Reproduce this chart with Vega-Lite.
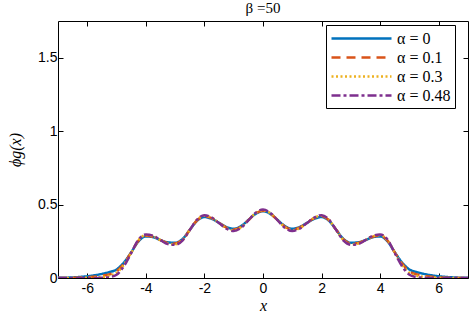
{
  "$schema": "https://vega.github.io/schema/vega-lite/v6.json",
  "width": 410,
  "height": 257,
  "autosize": {"type": "none"},
  "padding": {"left": 58, "top": 21, "right": 3, "bottom": 40},
  "title": {"text": "β =50", "font": "Liberation Serif", "fontSize": 15, "fontWeight": "normal", "offset": 5, "anchor": "middle", "color": "black"},
  "config": {
    "view": {"stroke": "black", "strokeWidth": 1},
    "axis": {"grid": false, "domain": false, "tickColor": "black", "tickSize": -5, "labelFont": "Liberation Sans", "labelFontSize": 14, "labelColor": "black", "titleColor": "black"},
    "legend": {"title": null, "orient": "none", "legendX": 268, "legendY": 4, "symbolType": "M-1,0H6.5", "symbolSize": 256, "labelFont": "Liberation Serif", "labelFontSize": 16, "labelColor": "black", "strokeColor": "black", "fillColor": "white", "padding": 4, "labelOffset": 48, "rowPadding": 1}
  },
  "data": {"values": [
    {"x": -7, "a0": 0.001, "a01": 0, "a03": 0, "a048": 0},
    {"x": -6.5, "a0": 0.004, "a01": 0.001, "a03": 0, "a048": 0},
    {"x": -6, "a0": 0.012, "a01": 0.005, "a03": 0.002, "a048": 0},
    {"x": -5.5, "a0": 0.028, "a01": 0.015, "a03": 0.007, "a048": 0.002},
    {"x": -5.25, "a0": 0.04, "a01": 0.025, "a03": 0.015, "a048": 0.006},
    {"x": -5, "a0": 0.058, "a01": 0.045, "a03": 0.035, "a048": 0.022},
    {"x": -4.75, "a0": 0.105, "a01": 0.098, "a03": 0.09, "a048": 0.08},
    {"x": -4.5, "a0": 0.175, "a01": 0.175, "a03": 0.172, "a048": 0.17},
    {"x": -4.25, "a0": 0.25, "a01": 0.255, "a03": 0.258, "a048": 0.262},
    {"x": -4, "a0": 0.283, "a01": 0.288, "a03": 0.292, "a048": 0.297},
    {"x": -3.75, "a0": 0.278, "a01": 0.281, "a03": 0.284, "a048": 0.288},
    {"x": -3.5, "a0": 0.258, "a01": 0.258, "a03": 0.258, "a048": 0.258},
    {"x": -3.25, "a0": 0.243, "a01": 0.239, "a03": 0.235, "a048": 0.231},
    {"x": -3, "a0": 0.24, "a01": 0.235, "a03": 0.23, "a048": 0.226},
    {"x": -2.75, "a0": 0.265, "a01": 0.262, "a03": 0.258, "a048": 0.255},
    {"x": -2.5, "a0": 0.328, "a01": 0.328, "a03": 0.327, "a048": 0.327},
    {"x": -2.25, "a0": 0.39, "a01": 0.393, "a03": 0.396, "a048": 0.398},
    {"x": -2, "a0": 0.415, "a01": 0.42, "a03": 0.424, "a048": 0.428},
    {"x": -1.75, "a0": 0.403, "a01": 0.407, "a03": 0.41, "a048": 0.412},
    {"x": -1.5, "a0": 0.375, "a01": 0.375, "a03": 0.375, "a048": 0.374},
    {"x": -1.25, "a0": 0.347, "a01": 0.343, "a03": 0.339, "a048": 0.336},
    {"x": -1, "a0": 0.335, "a01": 0.33, "a03": 0.325, "a048": 0.32},
    {"x": -0.75, "a0": 0.353, "a01": 0.349, "a03": 0.345, "a048": 0.341},
    {"x": -0.5, "a0": 0.395, "a01": 0.394, "a03": 0.394, "a048": 0.393},
    {"x": -0.25, "a0": 0.437, "a01": 0.439, "a03": 0.442, "a048": 0.444},
    {"x": 0, "a0": 0.455, "a01": 0.458, "a03": 0.462, "a048": 0.466},
    {"x": 0.25, "a0": 0.437, "a01": 0.439, "a03": 0.442, "a048": 0.444},
    {"x": 0.5, "a0": 0.395, "a01": 0.394, "a03": 0.394, "a048": 0.393},
    {"x": 0.75, "a0": 0.353, "a01": 0.349, "a03": 0.345, "a048": 0.341},
    {"x": 1, "a0": 0.335, "a01": 0.33, "a03": 0.325, "a048": 0.32},
    {"x": 1.25, "a0": 0.347, "a01": 0.343, "a03": 0.339, "a048": 0.336},
    {"x": 1.5, "a0": 0.375, "a01": 0.375, "a03": 0.375, "a048": 0.374},
    {"x": 1.75, "a0": 0.403, "a01": 0.407, "a03": 0.41, "a048": 0.412},
    {"x": 2, "a0": 0.415, "a01": 0.42, "a03": 0.424, "a048": 0.428},
    {"x": 2.25, "a0": 0.39, "a01": 0.393, "a03": 0.396, "a048": 0.398},
    {"x": 2.5, "a0": 0.328, "a01": 0.328, "a03": 0.327, "a048": 0.327},
    {"x": 2.75, "a0": 0.265, "a01": 0.262, "a03": 0.258, "a048": 0.255},
    {"x": 3, "a0": 0.24, "a01": 0.235, "a03": 0.23, "a048": 0.226},
    {"x": 3.25, "a0": 0.243, "a01": 0.239, "a03": 0.235, "a048": 0.231},
    {"x": 3.5, "a0": 0.258, "a01": 0.258, "a03": 0.258, "a048": 0.258},
    {"x": 3.75, "a0": 0.278, "a01": 0.281, "a03": 0.284, "a048": 0.288},
    {"x": 4, "a0": 0.283, "a01": 0.288, "a03": 0.292, "a048": 0.297},
    {"x": 4.25, "a0": 0.25, "a01": 0.255, "a03": 0.258, "a048": 0.262},
    {"x": 4.5, "a0": 0.175, "a01": 0.175, "a03": 0.172, "a048": 0.17},
    {"x": 4.75, "a0": 0.105, "a01": 0.098, "a03": 0.09, "a048": 0.08},
    {"x": 5, "a0": 0.058, "a01": 0.045, "a03": 0.035, "a048": 0.022},
    {"x": 5.25, "a0": 0.04, "a01": 0.025, "a03": 0.015, "a048": 0.006},
    {"x": 5.5, "a0": 0.028, "a01": 0.015, "a03": 0.007, "a048": 0.002},
    {"x": 6, "a0": 0.012, "a01": 0.005, "a03": 0.002, "a048": 0},
    {"x": 6.5, "a0": 0.004, "a01": 0.001, "a03": 0, "a048": 0},
    {"x": 7, "a0": 0.001, "a01": 0, "a03": 0, "a048": 0}
  ]},
  "transform": [{"fold": ["a0", "a01", "a03", "a048"], "as": ["series", "phi"]}],
  "resolve": {"axis": {"x": "independent", "y": "independent"}},
  "layer": [
    {
      "mark": {"type": "line", "interpolate": "monotone", "clip": true},
      "encoding": {
        "x": {"field": "x", "type": "quantitative", "scale": {"domain": [-7, 7], "nice": false, "zero": false},
          "axis": {"orient": "bottom", "values": [-6, -4, -2, 0, 2, 4, 6], "labelExpr": "'' + datum.value", "title": "x", "titleFont": "Liberation Serif", "titleFontStyle": "italic", "titleFontWeight": "normal", "titleFontSize": 16, "labelPadding": 8, "titlePadding": 2}},
        "y": {"field": "phi", "type": "quantitative", "scale": {"domain": [0, 1.75], "nice": false},
          "axis": {"orient": "left", "values": [0, 0.5, 1, 1.5], "labelExpr": "'' + datum.value", "title": "ϕg(x)", "titleFont": "Liberation Serif", "titleFontStyle": "italic", "titleFontWeight": "normal", "titleFontSize": 16, "labelPadding": 6, "titlePadding": 14}},
        "color": {"field": "series", "type": "ordinal",
          "scale": {"domain": ["a0", "a01", "a03", "a048"], "range": ["#0072BD", "#D95319", "#EDB120", "#7E2F8E"]},
          "legend": {"labelExpr": "datum.value == 'a0' ? 'α = 0' : datum.value == 'a01' ? 'α = 0.1' : datum.value == 'a03' ? 'α = 0.3' : 'α = 0.48'"}},
        "strokeDash": {"field": "series", "type": "ordinal",
          "scale": {"domain": ["a0", "a01", "a03", "a048"], "range": [[1, 0], [9, 6], [2, 2.5], [9, 3, 3, 3]]},
          "legend": {"labelExpr": "datum.value == 'a0' ? 'α = 0' : datum.value == 'a01' ? 'α = 0.1' : datum.value == 'a03' ? 'α = 0.3' : 'α = 0.48'"}},
        "strokeWidth": {"field": "series", "type": "ordinal",
          "scale": {"domain": ["a0", "a01", "a03", "a048"], "range": [2.5, 2.5, 2.5, 3.8]},
          "legend": {"labelExpr": "datum.value == 'a0' ? 'α = 0' : datum.value == 'a01' ? 'α = 0.1' : datum.value == 'a03' ? 'α = 0.3' : 'α = 0.48'"}}
      }
    },
    {
      "mark": {"type": "point", "opacity": 0},
      "encoding": {
        "x": {"field": "x", "type": "quantitative", "axis": {"orient": "top", "values": [-6, -4, -2, 0, 2, 4, 6], "labels": false, "title": null}},
        "y": {"field": "phi", "type": "quantitative", "axis": {"orient": "right", "values": [0, 0.5, 1, 1.5], "labels": false, "title": null}}
      }
    }
  ]
}
